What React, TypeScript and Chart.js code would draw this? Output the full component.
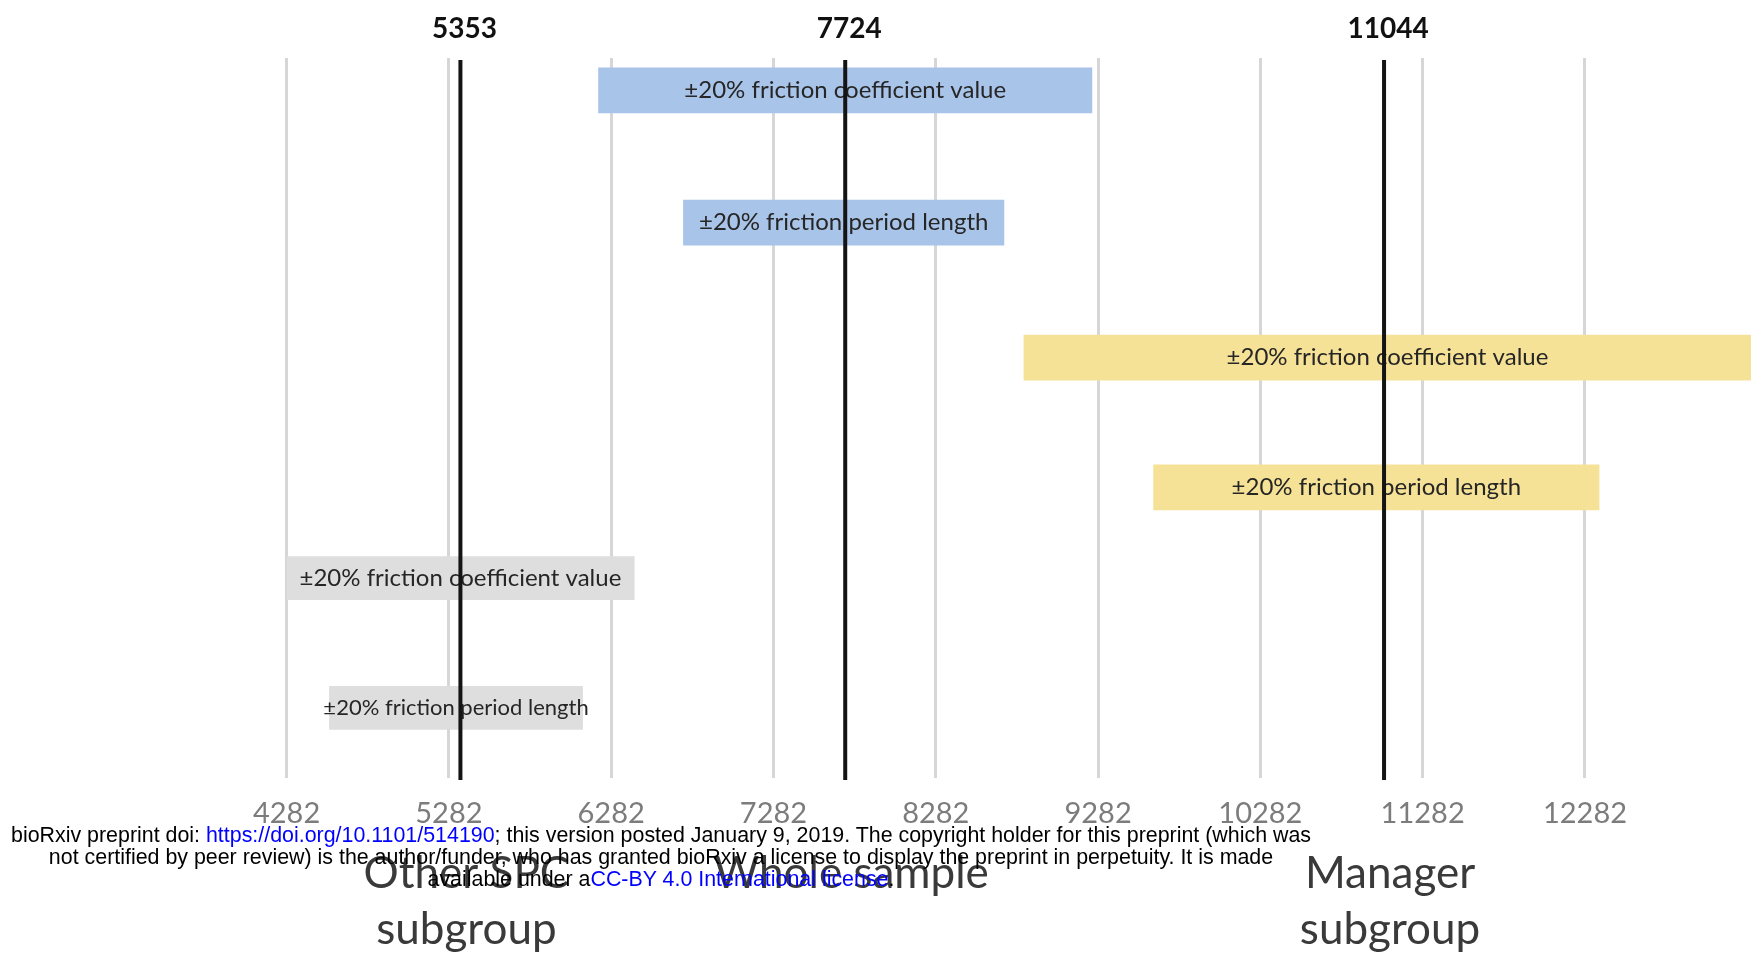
import React, { useEffect, useRef } from "react";
import { Chart, registerables } from "chart.js";

Chart.register(...registerables);

// ---- data ----
const tickValues = [4282, 5282, 6282, 7282, 8282, 9282, 10282, 11282, 12282];
const axisMin = 4282;
const axisMax = 13305;

const barLabels = ["±20% friction coefficient value", "±20% friction period length"];

// Whole sample (blue)
const wholeStarts = [6204, 6727];
const wholeEnds = [9244, 8702];
// Manager subgroup (yellow)
const managerStarts = [8825, 9624];
const managerEnds = [13400, 12369];
// Other SPC subgroup (grey)
const otherStarts = [4282, 4546];
const otherEnds = [6424, 6106];

// row slots on the (hidden) vertical axis
const wholeRows = [0.36, 1.83];
const managerRows = [3.33, 4.77];
const otherRows = [5.78, 7.22];

// reference values (vertical black lines)
const refValues = [5353, 7724, 11044];
const refLabels = ["5353", "7724", "11044"];
const groupLabelLines = [["Other SPC", "subgroup"], ["Whole sample"], ["Manager", "subgroup"]];

// ---- styles ----
const labelSizes = [
  [24, 24],
  [24, 24],
  [24, 22],
];

const overlayPlugin = {
  id: "overlayPlugin",
  afterDatasetsDraw(chart: any) {
    const ctx = chart.ctx;
    const area = chart.chartArea;
    const xs = chart.scales.x;
    ctx.save();
    // bar labels
    chart.data.datasets.forEach((ds: any, di: number) => {
      const meta = chart.getDatasetMeta(di);
      meta.data.forEach((bar: any, i: number) => {
        const p = bar.getProps(["x", "base", "y"], true);
        const left = Math.max(Math.min(p.x, p.base), area.left);
        const right = Math.min(Math.max(p.x, p.base), area.right);
        ctx.font = `${labelSizes[di][i]}px Lato`;
        ctx.fillStyle = "#262626";
        ctx.textAlign = "center";
        ctx.textBaseline = "middle";
        ctx.fillText(barLabels[i], (left + right) / 2, p.y);
      });
    });
    // reference lines + labels
    refValues.forEach((v, k) => {
      const px = xs.getPixelForValue(v);
      ctx.beginPath();
      ctx.strokeStyle = "#141414";
      ctx.lineWidth = 4;
      ctx.moveTo(px, area.top + 2);
      ctx.lineTo(px, area.bottom + 2);
      ctx.stroke();
      ctx.font = "bold 28px Lato";
      ctx.fillStyle = "#111111";
      ctx.textAlign = "center";
      ctx.textBaseline = "middle";
      ctx.fillText(refLabels[k], px + 4, 29);
      ctx.font = "44px Lato";
      ctx.fillStyle = "#3a3a3a";
      groupLabelLines[k].forEach((line, li) => {
        ctx.fillText(line, px + 6, area.bottom + 96 + li * 56);
      });
    });
    ctx.restore();
  },
};

export default function App() {
  const ref = useRef<HTMLCanvasElement | null>(null);
  useEffect(() => {
    if (!ref.current) return;
    const mk = (starts: number[], ends: number[], rows: number[]) =>
      starts.map((s, i) => ({ x: [s, ends[i]], y: rows[i] }));
    const chart = new Chart(ref.current, {
      type: "bar",
      data: {
        datasets: [
          {
            label: "Whole sample",
            data: mk(wholeStarts, wholeEnds, wholeRows) as any,
            backgroundColor: "#a9c4e9",
            barThickness: 45,
            grouped: false,
          },
          {
            label: "Manager subgroup",
            data: mk(managerStarts, managerEnds, managerRows) as any,
            backgroundColor: "#f6e297",
            barThickness: 45,
            grouped: false,
          },
          {
            label: "Other SPC subgroup",
            data: mk(otherStarts, otherEnds, otherRows) as any,
            backgroundColor: "#dedede",
            barThickness: 43,
            grouped: false,
          },
        ],
      },
      options: {
        indexAxis: "y",
        animation: false,
        responsive: false,
        devicePixelRatio: 1,
        layout: { padding: { left: 286.6, top: 58, right: 0, bottom: 0 } },
        plugins: { legend: { display: false }, tooltip: { enabled: false } },
        scales: {
          x: {
            type: "linear",
            min: axisMin,
            max: axisMax,
            afterBuildTicks: (s: any) => {
              s.ticks = tickValues.map((v) => ({ value: v }));
            },
            afterFit: (s: any) => {
              s.height = 193;
            },
            grid: { color: "#d6d6d6", lineWidth: 3, drawTicks: false },
            border: { display: false },
            ticks: {
              autoSkip: false,
              maxRotation: 0,
              padding: 18,
              color: "#7c7c7c",
              font: { family: "Lato", size: 29 },
              callback: (v: any) => String(v),
            },
          },
          y: {
            type: "linear",
            min: 0,
            max: 8,
            reverse: true,
            offset: false,
            display: false,
          },
        },
      } as any,
      plugins: [overlayPlugin],
    });
    return () => chart.destroy();
  }, []);

  const blue = { color: "#0000ff" };
  return (
    <div style={{ position: "fixed", left: 0, top: 0, width: 1751, height: 971, background: "#fff", overflow: "hidden" }}>
      <canvas ref={ref} width={1751} height={971} style={{ position: "absolute", left: 0, top: 0, width: 1751, height: 971 }} />
      <div
        style={{
          position: "absolute",
          left: 0,
          top: 824,
          width: 1322,
          textAlign: "center",
          fontFamily: "'Liberation Sans', Arial, sans-serif",
          fontSize: 21.4,
          lineHeight: "22px",
          color: "#000",
          whiteSpace: "nowrap",
        }}
      >
        bioRxiv preprint doi: <span style={blue}>https://doi.org/10.1101/514190</span>; this version posted January 9, 2019. The copyright holder for this preprint (which was
        <br />
        not certified by peer review) is the author/funder, who has granted bioRxiv a license to display the preprint in perpetuity. It is made
        <br />
        available under a<span style={blue}>CC-BY 4.0 International license</span>.
      </div>
    </div>
  );
}
